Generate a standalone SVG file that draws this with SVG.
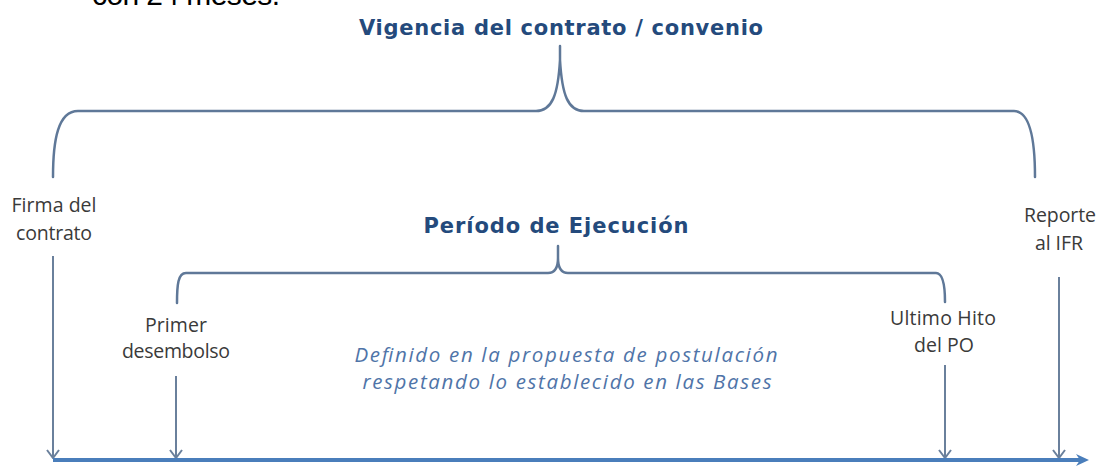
<svg xmlns="http://www.w3.org/2000/svg" width="1097" height="466" viewBox="0 0 1097 466">
<style>
.bracket{fill:none;stroke:#5f7898;stroke-width:2.5;stroke-linecap:round}
.drop{fill:none;stroke:#6a809c;stroke-width:2}
.title{font-family:"DejaVu Sans","Liberation Sans",sans-serif;font-weight:bold;fill:#244a7c;text-anchor:middle}
.lbl{font-family:"Open Sans","Liberation Sans",sans-serif;font-size:19.5px;fill:#3a3a3a;text-anchor:middle}
.note{font-family:"Open Sans","Liberation Sans",sans-serif;font-style:italic;font-size:20.5px;fill:#4f74a8;text-anchor:middle}
</style>
<defs>
<marker id="vhead" viewBox="0 0 10 14" refX="9" refY="7" markerWidth="10" markerHeight="14" markerUnits="userSpaceOnUse" orient="auto">
<path d="M1,1 L9,7 L1,13" fill="none" stroke="#6a809c" stroke-width="2"/>
</marker>
<marker id="axhead" viewBox="0 0 14 14" refX="4" refY="7" markerWidth="14" markerHeight="14" markerUnits="userSpaceOnUse" orient="auto">
<path d="M0,1 L13,7 L0,13 L4,7 Z" fill="#4a7ebb"/>
</marker>
</defs>
<text x="92" y="5" font-family="Liberation Sans,Arial,sans-serif" font-size="30" fill="#000" textLength="188">con 24 meses.</text>
<g id="title-vigencia"><text class="title" x="561" y="35" font-size="21" textLength="404">Vigencia del contrato / convenio</text></g>
<g id="title-periodo"><text class="title" x="556" y="233" font-size="21" textLength="265">Período de Ejecución</text></g>
<g id="brackets">
<path class="bracket" d="M53,177 C53,140 58,111 78,111 L536,111 C552,111 558,95 560,60 L560,46 M560,60 C562,95 568,111 584,111 L1014,111 C1030,111 1035,140 1035,177"/>
<path class="bracket" d="M177,303 C177,285 178,273 186,273 L548,273 C555,273 558,268 558,258 L558,246 M558,258 C558,268 561,273 568,273 L936,273 C943,273 945,285 945,302"/>
</g>
<g id="node-firma"><text class="lbl" x="54" y="212" textLength="85">Firma del</text><text class="lbl" x="54" y="240" textLength="76">contrato</text></g>
<g id="node-reporte"><text class="lbl" x="1060" y="222" textLength="72">Reporte</text><text class="lbl" x="1059" y="250" textLength="48">al IFR</text></g>
<g id="node-primer"><text class="lbl" x="176" y="332" textLength="62">Primer</text><text class="lbl" x="176" y="358" textLength="108">desembolso</text></g>
<g id="node-ultimo"><text class="lbl" x="943" y="325" textLength="106">Ultimo Hito</text><text class="lbl" x="944" y="352" textLength="60">del PO</text></g>
<g id="note"><text class="note" x="566" y="362" textLength="423">Definido en la propuesta de postulación</text><text class="note" x="567" y="389" textLength="409">respetando lo establecido en las Bases</text></g>
<g id="connectors">
<line x1="53" y1="256" x2="53" y2="458" class="drop" marker-end="url(#vhead)"/>
<line x1="176" y1="376" x2="176" y2="458" class="drop" marker-end="url(#vhead)"/>
<line x1="945" y1="365" x2="945" y2="458" class="drop" marker-end="url(#vhead)"/>
<line x1="1059" y1="277" x2="1059" y2="458" class="drop" marker-end="url(#vhead)"/>
<line x1="53" y1="460" x2="1080" y2="460" stroke="#4a7ebb" stroke-width="4" marker-end="url(#axhead)"/>
</g>
</svg>
